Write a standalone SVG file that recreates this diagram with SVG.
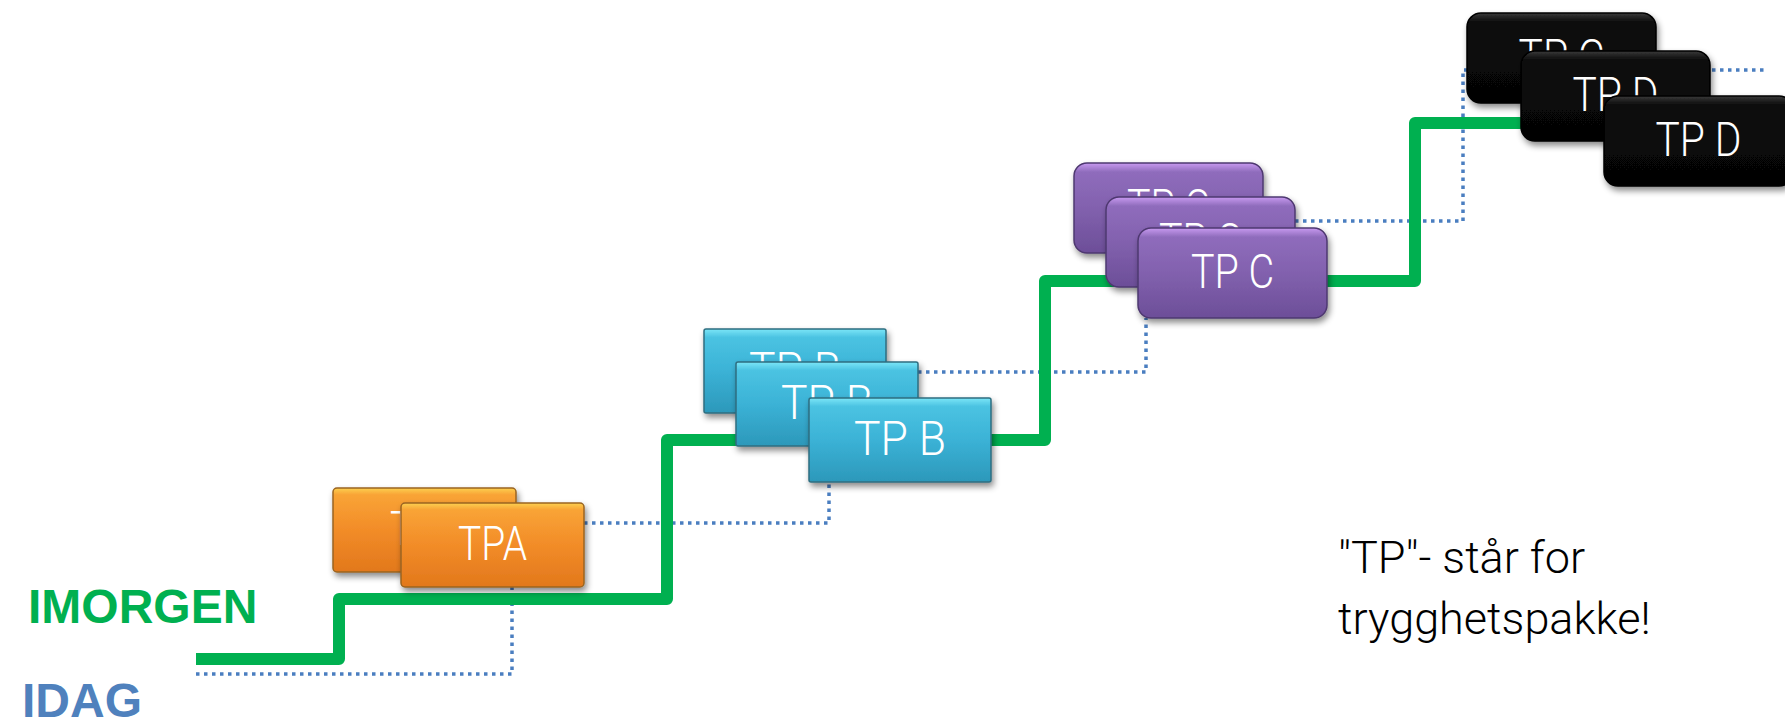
<svg xmlns="http://www.w3.org/2000/svg" width="1785" height="719" viewBox="0 0 1785 719">
<defs>
<style>
.lbl{font-family:Roboto,"Liberation Sans",sans-serif;font-weight:300;font-size:48px;fill:#fff;text-anchor:middle}
.note{font-family:Roboto,"Liberation Sans",sans-serif;font-weight:300;font-size:45px;fill:#000}
.big{font-family:"Liberation Sans",Arial,sans-serif;font-weight:bold;font-size:48px}
.dot{fill:none;stroke:#4A7EC0;stroke-width:3.5;stroke-dasharray:3.5 4.5}
.step{fill:none;stroke:#00B050;stroke-width:12;stroke-linejoin:round}
.or{fill:url(#gOr);stroke:#9A6420;stroke-width:1.5;filter:url(#sh)}
.bl{fill:url(#gBl);stroke:#2F6E80;stroke-width:1.5;filter:url(#sh)}
.pu{fill:url(#gPu);stroke:#4E3870;stroke-width:1.5;filter:url(#sh)}
.bk{fill:url(#gBk);stroke:#000;stroke-width:1.5;filter:url(#sh)}
</style>
<filter id="sh" x="-10%" y="-15%" width="125%" height="140%">
<feDropShadow dx="2" dy="4" stdDeviation="3" flood-color="#000" flood-opacity="0.45"/>
</filter>
<linearGradient id="gOr" x1="0" y1="0" x2="0" y2="1">
<stop offset="0" stop-color="#FCD050"/><stop offset="0.08" stop-color="#F9A436"/><stop offset="0.5" stop-color="#F28C28"/><stop offset="1" stop-color="#E2781C"/>
</linearGradient>
<linearGradient id="gBl" x1="0" y1="0" x2="0" y2="1">
<stop offset="0" stop-color="#7BE6F7"/><stop offset="0.1" stop-color="#4BC3E2"/><stop offset="0.5" stop-color="#3BB2D6"/><stop offset="1" stop-color="#2C98BA"/>
</linearGradient>
<linearGradient id="gPu" x1="0" y1="0" x2="0" y2="1">
<stop offset="0" stop-color="#C89AF0"/><stop offset="0.1" stop-color="#8F6CBC"/><stop offset="0.5" stop-color="#8261AE"/><stop offset="1" stop-color="#6C4E98"/>
</linearGradient>
<linearGradient id="gBk" x1="0" y1="0" x2="0" y2="1">
<stop offset="0" stop-color="#3A3A3A"/><stop offset="0.1" stop-color="#0A0A0A"/><stop offset="1" stop-color="#050505"/>
</linearGradient>
</defs>
<rect width="1785" height="719" fill="#fff"/>
<g id="connectors">
<path class="dot" d="M196,674 H512 V587"/>
<path class="dot" d="M584,523 H829 V482"/>
<path class="dot" d="M918,372 H1146 V318"/>
<path class="dot" d="M1295,221 H1463 V70 H1766"/>
<path class="step" d="M196,659 H339 V599 H667 V440 H1045 V281 H1415 V123 H1530"/>
</g>
<g id="tpa1"><rect class="or" x="333" y="488" width="183" height="84" rx="4"/><text class="lbl" x="424.5" y="545" textLength="69" lengthAdjust="spacingAndGlyphs">TPA</text></g>
<g id="tpa2"><rect class="or" x="401" y="503" width="183" height="84" rx="4"/><text class="lbl" x="492.5" y="560" textLength="69" lengthAdjust="spacingAndGlyphs">TPA</text></g>
<g id="tpb1"><rect class="bl" x="704" y="329" width="182" height="84" rx="2"/><text class="lbl" x="795" y="386" textLength="92" lengthAdjust="spacingAndGlyphs">TP B</text></g>
<g id="tpb2"><rect class="bl" x="736" y="362" width="182" height="84" rx="2"/><text class="lbl" x="827" y="419" textLength="92" lengthAdjust="spacingAndGlyphs">TP B</text></g>
<g id="tpb3"><rect class="bl" x="809" y="398" width="182" height="84" rx="2"/><text class="lbl" x="900" y="455" textLength="92" lengthAdjust="spacingAndGlyphs">TP B</text></g>
<g id="tpc1"><rect class="pu" x="1074" y="163" width="189" height="90" rx="13"/><text class="lbl" x="1168.5" y="223" textLength="83" lengthAdjust="spacingAndGlyphs">TP C</text></g>
<g id="tpc2"><rect class="pu" x="1106" y="197" width="189" height="90" rx="13"/><text class="lbl" x="1200.5" y="257" textLength="83" lengthAdjust="spacingAndGlyphs">TP C</text></g>
<g id="tpc3"><rect class="pu" x="1138" y="228" width="189" height="90" rx="13"/><text class="lbl" x="1232.5" y="288" textLength="83" lengthAdjust="spacingAndGlyphs">TP C</text></g>
<g id="tpd1"><rect class="bk" x="1467" y="13" width="189" height="90" rx="14"/><text class="lbl" x="1561.5" y="73" textLength="86" lengthAdjust="spacingAndGlyphs">TP C</text></g>
<g id="tpd2"><rect class="bk" x="1521" y="51" width="189" height="90" rx="14"/><text class="lbl" x="1615.5" y="111" textLength="86" lengthAdjust="spacingAndGlyphs">TP D</text></g>
<g id="tpd3"><rect class="bk" x="1604" y="96" width="189" height="90" rx="14"/><text class="lbl" x="1698.5" y="156" textLength="86" lengthAdjust="spacingAndGlyphs">TP D</text></g>
<g id="labels">
<text class="big" x="28" y="623" fill="#00B050">IMORGEN</text>
<text class="big" x="22" y="717" fill="#4F81BD">IDAG</text>
<text class="note" x="1338" y="573">″TP″- står for</text>
<text class="note" x="1338" y="634">trygghetspakke!</text>
</g>
</svg>
